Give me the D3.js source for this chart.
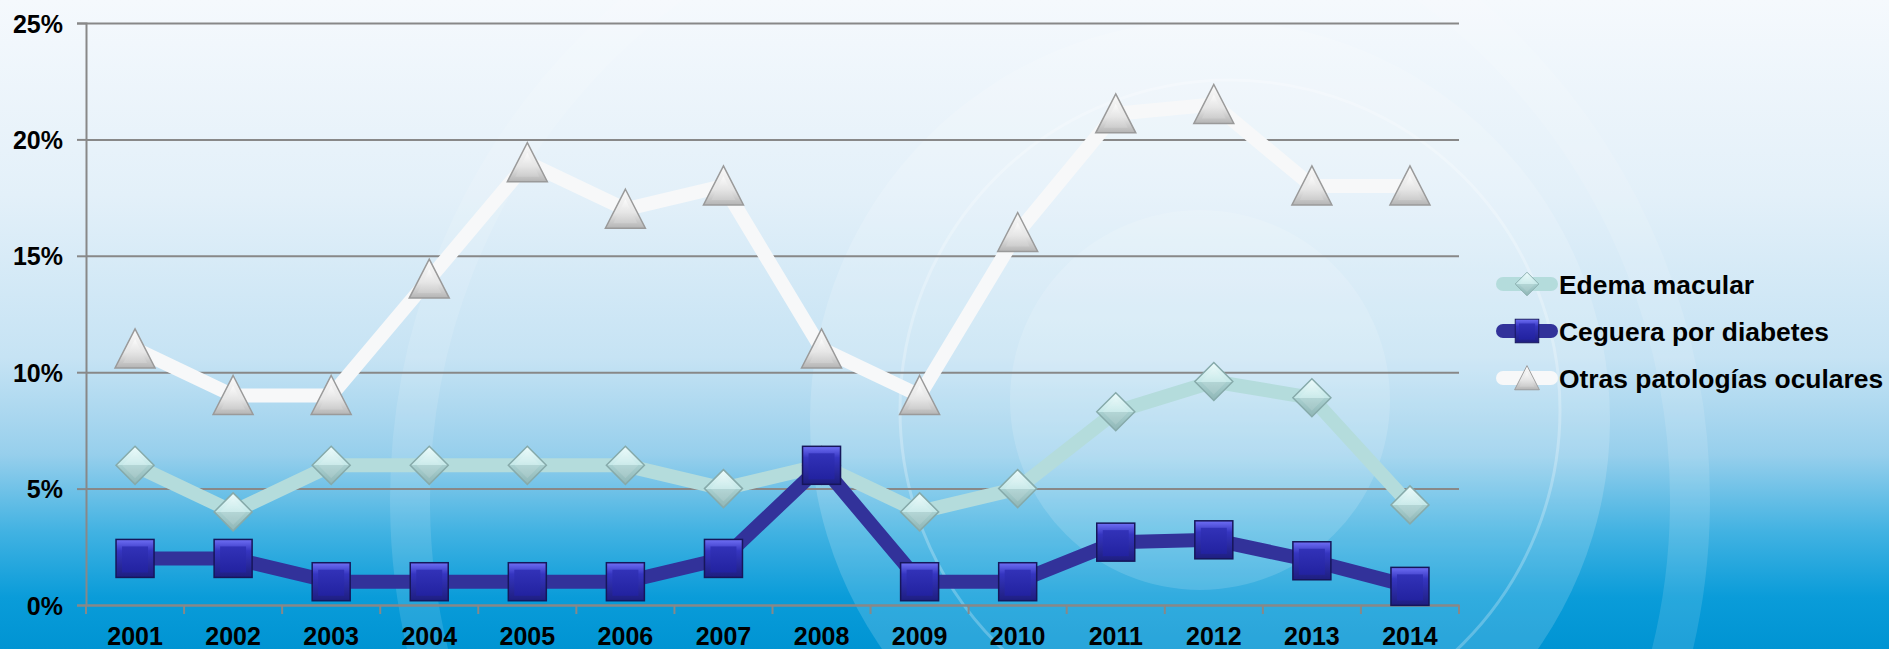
<!DOCTYPE html>
<html>
  <head>
    <meta charset="utf-8">
    <script src="https://d3js.org/d3.v7.min.js"></script>
    <title>Patologías oculares</title>
    <style>
      body { margin: 0; }
      text { font-family: "Liberation Sans", Arial, sans-serif; font-weight: bold; fill: #000; }
    </style>
  </head>
  <body>
    <div id="plot"></div>
    <script>

    // data
    const years = ["2001","2002","2003","2004","2005","2006","2007","2008","2009","2010","2011","2012","2013","2014"];
    const edema = [6, 4, 6, 6, 6, 6, 5, 6, 4, 5, 8.3, 9.6, 8.9, 4.3];
    const ceguera = [2, 2, 1, 1, 1, 1, 2, 6, 1, 1, 2.7, 2.8, 1.9, 0.8];
    const otras = [11, 9, 9, 14, 19, 17, 18, 11, 9, 16, 21.1, 21.5, 18, 18];
    const yTicks = [0, 5, 10, 15, 20, 25];
    const seriesNames = ["Edema macular", "Ceguera por diabetes", "Otras patologías oculares"];

    const W = 1889, H = 649;
    const plotLeft = 86, plotRight = 1459, plotTop = 23, plotBottom = 605;

    const svg = d3.select("#plot")
      .append("svg")
        .attr("width", W)
        .attr("height", H);

    const defs = svg.append("defs");

    function grad(id, stops) {
      const g = defs.append("linearGradient").attr("id", id)
        .attr("x1", 0).attr("y1", 0).attr("x2", 0).attr("y2", 1);
      stops.forEach(function(s) { g.append("stop").attr("offset", s[0]).attr("stop-color", s[1]); });
    }
    // background gradient
    grad("bg", [[0, "#f5f9fd"], [0.3, "#e3f0f9"], [0.55, "#c6e3f4"], [0.7, "#97cfec"], [0.82, "#41b2e2"], [0.92, "#0a9cd9"], [1, "#0094d3"]]);
    // marker gradients
    grad("dia", [[0, "#eefcfc"], [0.5, "#c4e8e8"], [0.5, "#a9d0d0"], [1, "#8fb6b6"]]);
    grad("sqOut", [[0, "#6f6ff5"], [0.3, "#3535c0"], [1, "#1e1e80"]]);
    grad("sqIn", [[0, "#3232b8"], [1, "#2222a0"]]);
    grad("tri", [[0, "#fafafa"], [0.6, "#e6e6e6"], [1, "#b4b4b4"]]);
    grad("triIn", [[0, "#ffffff"], [1, "#d0d0d0"]]);

    svg.append("rect").attr("width", W).attr("height", H).attr("fill", "url(#bg)");

    // decorative swirl
    const deco = svg.append("g");
    deco.append("circle").attr("cx", 1210).attr("cy", 420).attr("r", 400)
      .attr("fill", "#ffffff").attr("fill-opacity", 0.16);
    deco.append("circle").attr("cx", 1230).attr("cy", 410).attr("r", 330)
      .attr("fill", "none").attr("stroke", "#ffffff").attr("stroke-opacity", 0.25).attr("stroke-width", 3);
    deco.append("circle").attr("cx", 1200).attr("cy", 400).attr("r", 190)
      .attr("fill", "#ffffff").attr("fill-opacity", 0.14);
    deco.append("circle").attr("cx", 1050).attr("cy", 500).attr("r", 640)
      .attr("fill", "none").attr("stroke", "#ffffff").attr("stroke-opacity", 0.12).attr("stroke-width", 40);

    // scales
    const x = d3.scaleBand().domain(years).range([plotLeft, plotRight]);
    const y = d3.scaleLinear().domain([0, 25]).range([plotBottom, plotTop]);

    // grid lines
    svg.append("g")
      .attr("transform", "translate(" + plotLeft + ",0)")
      .call(d3.axisLeft(y).tickValues(yTicks).tickSize(-(plotRight - plotLeft)).tickFormat(""))
      .call(function(g) { g.select(".domain").remove(); })
      .selectAll("line").attr("stroke", "#888").attr("stroke-width", 2);

    // y axis
    const yAxis = svg.append("g")
      .attr("transform", "translate(" + plotLeft + ",0)")
      .call(d3.axisLeft(y).tickValues(yTicks).tickSize(9).tickPadding(14).tickFormat(function(d) { return d + "%"; }));
    yAxis.select(".domain").attr("stroke", "#888").attr("stroke-width", 2);
    yAxis.selectAll("line").attr("stroke", "#888").attr("stroke-width", 2);
    yAxis.selectAll("text").style("font-size", "25px").attr("font-family", null).attr("fill", "#000").attr("dy", "0.36em");

    // x axis
    const xAxis = svg.append("g")
      .attr("transform", "translate(0," + plotBottom + ")")
      .call(d3.axisBottom(x).tickSize(0).tickPadding(22));
    xAxis.select(".domain").attr("stroke", "#888").attr("stroke-width", 2);
    xAxis.selectAll("text").style("font-size", "25px").attr("font-family", null).attr("fill", "#000");
    // ticks between categories
    xAxis.selectAll(".sep")
      .data(years.concat(["end"]))
      .enter().append("line")
        .attr("x1", function(d, i) { return plotLeft + i * x.bandwidth(); })
        .attr("x2", function(d, i) { return plotLeft + i * x.bandwidth(); })
        .attr("y1", 0).attr("y2", 9)
        .attr("stroke", "#888").attr("stroke-width", 2);

    const cx = function(d, i) { return x(years[i]) + x.bandwidth() / 2; };
    const line = d3.line().x(cx).y(function(d) { return y(d); });

    // marker drawing
    function diamond(g) {
      g.append("path").attr("d", "M0,-19L19,0L0,19L-19,0Z")
        .attr("fill", "url(#dia)").attr("stroke", "#86aaaa").attr("stroke-width", 1.5);
      g.append("path").attr("d", "M0,-13L13,0L0,13L-13,0Z")
        .attr("fill", "#ffffff").attr("fill-opacity", 0.12);
    }
    function square(g) {
      g.append("rect").attr("x", -19).attr("y", -19).attr("width", 38).attr("height", 38)
        .attr("fill", "url(#sqOut)").attr("stroke", "#16165a").attr("stroke-width", 1.5);
      g.append("rect").attr("x", -13).attr("y", -12).attr("width", 26).attr("height", 26)
        .attr("fill", "url(#sqIn)");
    }
    function triangle(g) {
      g.append("path").attr("d", "M0,-20L20,19L-20,19Z")
        .attr("fill", "url(#tri)").attr("stroke", "#9a9a9a").attr("stroke-width", 1.5);
      g.append("path").attr("d", "M0,-10L12,14L-12,14Z")
        .attr("fill", "url(#triIn)").attr("fill-opacity", 0.7);
    }

    const series = [
      { values: edema, color: "#b4dcdc", marker: diamond },
      { values: ceguera, color: "#32329a", marker: square },
      { values: otras, color: "#f7f8f9", marker: triangle }
    ];

    series.forEach(function(s) {
      svg.append("path")
        .datum(s.values)
        .attr("d", line)
        .attr("fill", "none")
        .attr("stroke", s.color)
        .attr("stroke-width", 14)
        .attr("stroke-linejoin", "round");
      svg.append("g").selectAll("g")
        .data(s.values)
        .enter().append("g")
          .attr("transform", function(d, i) { return "translate(" + cx(d, i) + "," + y(d) + ")"; })
          .each(function() { s.marker(d3.select(this)); });
    });

    // legend
    const legend = svg.append("g");
    const rowY = [284, 331, 378];
    series.forEach(function(s, i) {
      const row = legend.append("g").attr("transform", "translate(0," + rowY[i] + ")");
      row.append("line").attr("x1", 1503).attr("x2", 1551).attr("y1", 0).attr("y2", 0)
        .attr("stroke", s.color).attr("stroke-width", 14).attr("stroke-linecap", "round");
      const m = row.append("g").attr("transform", "translate(1527,0) scale(0.62)");
      s.marker(m);
      row.append("text").attr("x", 1559).attr("y", 0).attr("dy", "0.36em")
        .style("font-size", "26.4px").text(seriesNames[i]);
    });

    </script>
  </body>
</html>
